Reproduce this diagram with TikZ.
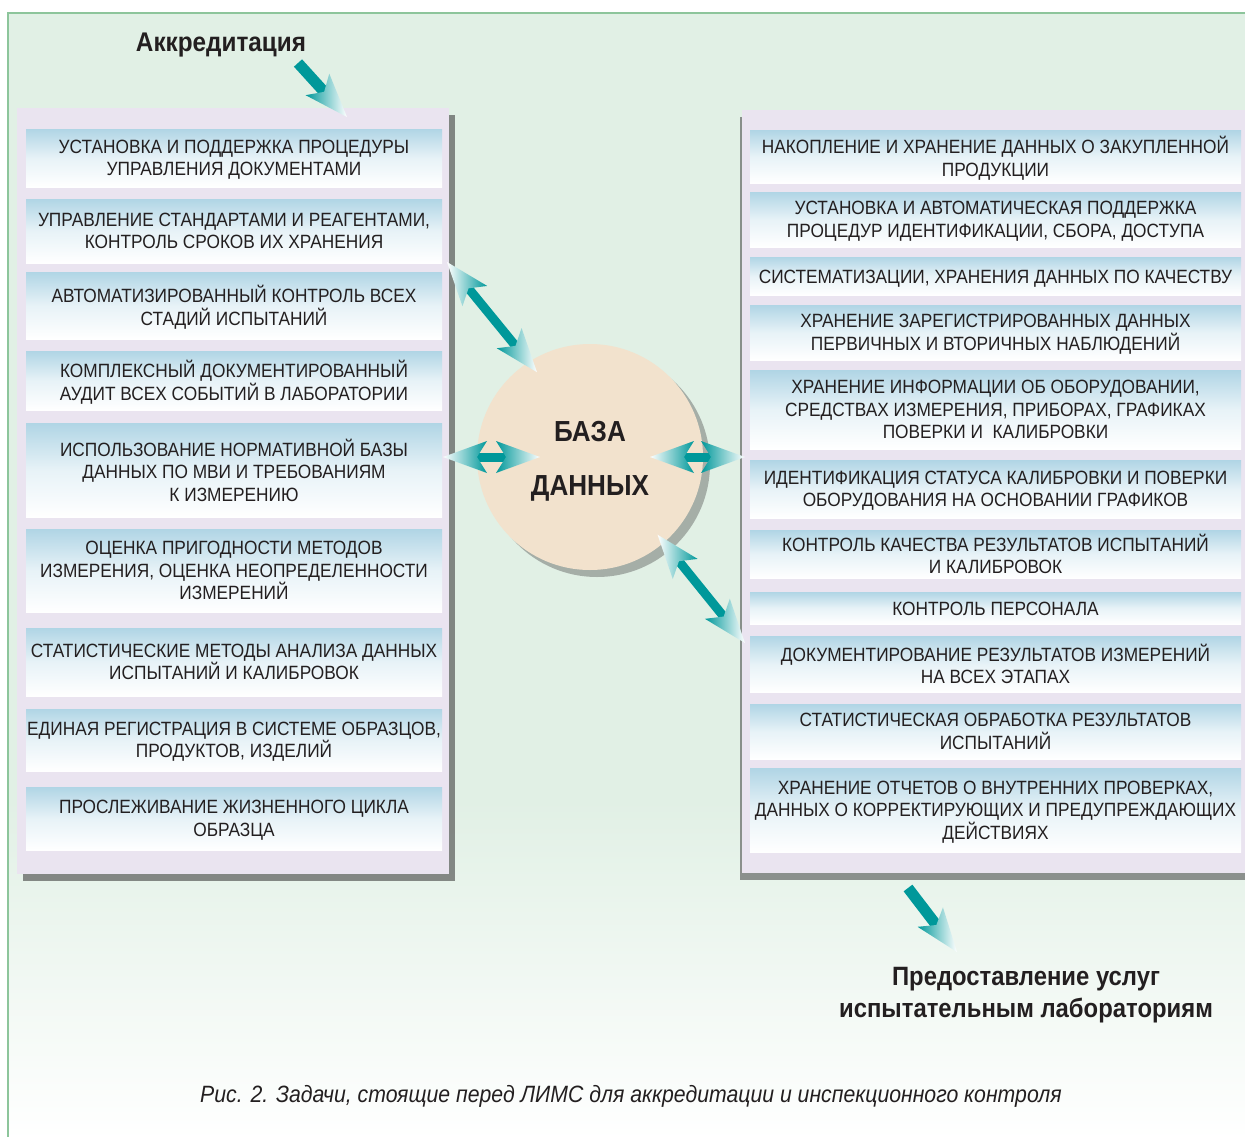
\documentclass[tikz,border=0pt]{standalone}
\usepackage{fontspec}
\setmainfont{Liberation Sans}[FakeStretch=0.9]
\usetikzlibrary{shadows,calc}
\definecolor{bggreen}{HTML}{E1F0E5}
\definecolor{bgline}{HTML}{8DC59B}
\definecolor{panelbg}{HTML}{EAE4F0}
\definecolor{boxblue}{HTML}{B0D5E5}
\definecolor{dbfill}{HTML}{F2E2CD}
\definecolor{arrowteal}{HTML}{00989A}
\definecolor{ink}{HTML}{231F20}
\newcommand{\taskfont}{\fontsize{19.2}{22.5}\selectfont}
\newcommand{\titlefont}{\fontsize{27}{32}\selectfont\bfseries}
\newcommand{\svcfont}{\fontsize{26.5}{32}\selectfont\bfseries}
\newcommand{\dbfont}{\fontsize{29}{54}\selectfont\bfseries}
\newcommand{\capfont}{\fontsize{23.6}{28}\selectfont\itshape}
\tikzset{
  tiphead/.pic={\shade[left color=arrowteal,right color=white] (0,0) -- (-44,-16) -- (-34,0) -- (-44,16) -- cycle;},
  tailhead/.pic={\shade[left color=white,right color=arrowteal] (0,0) -- (44,-16) -- (34,0) -- (44,16) -- cycle;}
}
\begin{document}
\begin{tikzpicture}[x=1pt,y=-1pt,
  task/.style={rectangle,minimum width=416pt,align=center,inner sep=0pt,
    top color=boxblue,bottom color=white,middle color=boxblue!30!white,text=ink,font=\taskfont,
    text depth=0pt,execute at begin node={\rule{0pt}{15pt}}},
  rtask/.style={task,minimum width=491pt},
  panel/.style={rectangle,fill=panelbg,inner sep=0pt},
  link/.style={draw=arrowteal,line width=9pt,shorten <=28pt,shorten >=28pt},
  feed/.style={draw=arrowteal,line width=11pt,shorten >=28pt}]
\useasboundingbox (0,0) rectangle (1245,1136);
\clip (0,0) rectangle (1245,1136);
\fill[bggreen] (8,13) rectangle (1250,800);
\shade[top color=bggreen,bottom color=white] (8,800) rectangle (1250,1140);
\draw[bgline,line width=1.2pt] (8,1140) |- (1250,13);

\node[panel,minimum width=432pt,minimum height=766pt,
  drop shadow={shadow xshift=6pt,shadow yshift=-7pt,fill=black!75,opacity=.6}] (lpan) at (233,491) {};
\node[panel,minimum width=518pt,minimum height=763pt,
  drop shadow={shadow xshift=-2pt,shadow yshift=-7pt,fill=black!75,opacity=.55}] (rpan) at (1001,491.5) {};

\node[task,minimum height=58pt] (l1) at (234,158) {УСТАНОВКА И ПОДДЕРЖКА ПРОЦЕДУРЫ\\УПРАВЛЕНИЯ ДОКУМЕНТАМИ};
\node[task,minimum height=64pt] (l2) at (234,231) {УПРАВЛЕНИЕ СТАНДАРТАМИ И РЕАГЕНТАМИ,\\КОНТРОЛЬ СРОКОВ ИХ ХРАНЕНИЯ};
\node[task,minimum height=67pt] (l3) at (234,305.5) {АВТОМАТИЗИРОВАННЫЙ КОНТРОЛЬ ВСЕХ\\СТАДИЙ ИСПЫТАНИЙ};
\node[task,minimum height=59pt] (l4) at (234,380.5) {КОМПЛЕКСНЫЙ ДОКУМЕНТИРОВАННЫЙ\\АУДИТ ВСЕХ СОБЫТИЙ В ЛАБОРАТОРИИ};
\node[task,minimum height=94pt] (l5) at (234,470) {ИСПОЛЬЗОВАНИЕ НОРМАТИВНОЙ БАЗЫ\\ДАННЫХ ПО МВИ И ТРЕБОВАНИЯМ\\К ИЗМЕРЕНИЮ};
\node[task,minimum height=83pt] (l6) at (234,570.5) {ОЦЕНКА ПРИГОДНОСТИ МЕТОДОВ\\ИЗМЕРЕНИЯ, ОЦЕНКА НЕОПРЕДЕЛЕННОСТИ\\ИЗМЕРЕНИЙ};
\node[task,minimum height=68pt] (l7) at (234,662) {СТАТИСТИЧЕСКИЕ МЕТОДЫ АНАЛИЗА ДАННЫХ\\ИСПЫТАНИЙ И КАЛИБРОВОК};
\node[task,minimum height=62pt] (l8) at (234,740) {ЕДИНАЯ РЕГИСТРАЦИЯ В СИСТЕМЕ ОБРАЗЦОВ,\\ПРОДУКТОВ, ИЗДЕЛИЙ};
\node[task,minimum height=63pt] (l9) at (234,818.5) {ПРОСЛЕЖИВАНИЕ ЖИЗНЕННОГО ЦИКЛА\\ОБРАЗЦА};

\node[rtask,minimum height=53pt] (r1) at (995.5,156.5) {НАКОПЛЕНИЕ И ХРАНЕНИЕ ДАННЫХ О ЗАКУПЛЕННОЙ\\ПРОДУКЦИИ};
\node[rtask,minimum height=55pt] (r2) at (995.5,219.5) {УСТАНОВКА И АВТОМАТИЧЕСКАЯ ПОДДЕРЖКА\\ПРОЦЕДУР ИДЕНТИФИКАЦИИ, СБОРА, ДОСТУПА};
\node[rtask,minimum height=38pt] (r3) at (995.5,276) {СИСТЕМАТИЗАЦИИ, ХРАНЕНИЯ ДАННЫХ ПО КАЧЕСТВУ};
\node[rtask,minimum height=55pt] (r4) at (995.5,332.5) {ХРАНЕНИЕ ЗАРЕГИСТРИРОВАННЫХ ДАННЫХ\\ПЕРВИЧНЫХ И ВТОРИЧНЫХ НАБЛЮДЕНИЙ};
\node[rtask,minimum height=79pt] (r5) at (995.5,409.5) {ХРАНЕНИЕ ИНФОРМАЦИИ ОБ ОБОРУДОВАНИИ,\\СРЕДСТВАХ ИЗМЕРЕНИЯ, ПРИБОРАХ, ГРАФИКАХ\\ПОВЕРКИ И\ \ КАЛИБРОВКИ};
\node[rtask,minimum height=58pt] (r6) at (995.5,489) {ИДЕНТИФИКАЦИЯ СТАТУСА КАЛИБРОВКИ И ПОВЕРКИ\\ОБОРУДОВАНИЯ НА ОСНОВАНИИ ГРАФИКОВ};
\node[rtask,minimum height=48pt] (r7) at (995.5,554) {КОНТРОЛЬ КАЧЕСТВА РЕЗУЛЬТАТОВ ИСПЫТАНИЙ\\И КАЛИБРОВОК};
\node[rtask,minimum height=32pt] (r8) at (995.5,608) {КОНТРОЛЬ ПЕРСОНАЛА};
\node[rtask,minimum height=56pt] (r9) at (995.5,664) {ДОКУМЕНТИРОВАНИЕ РЕЗУЛЬТАТОВ ИЗМЕРЕНИЙ\\НА ВСЕХ ЭТАПАХ};
\node[rtask,minimum height=55pt] (r10) at (995.5,731.5) {СТАТИСТИЧЕСКАЯ ОБРАБОТКА РЕЗУЛЬТАТОВ\\ИСПЫТАНИЙ};
\node[rtask,minimum height=84pt] (r11) at (995.5,810) {ХРАНЕНИЕ ОТЧЕТОВ О ВНУТРЕННИХ ПРОВЕРКАХ,\\ДАННЫХ О КОРРЕКТИРУЮЩИХ И ПРЕДУПРЕЖДАЮЩИХ\\ДЕЙСТВИЯХ};

\node[circle,fill=dbfill,minimum size=226pt,inner sep=0pt,
  label={[font=\dbfont,text=ink,align=center,yshift=-4pt]center:БАЗА\\ДАННЫХ},
  drop shadow={shadow xshift=7pt,shadow yshift=-7pt,fill=black!70,opacity=.4}] (db) at (590,457) {};

\node[font=\titlefont,text=ink] (acc) at (221,45) {Аккредитация};
\node[font=\svcfont,text=ink,align=center] (svc) at (1026,995) {Предоставление услуг\\испытательным лабораториям};
\node[font=\capfont,text=ink] (cap) at (631,1096) {Рис. 2. Задачи, стоящие перед ЛИМС для аккредитации и инспекционного контроля};

\coordinate (lA) at (447,262);
\coordinate (lB) at (443,457);
\coordinate (rC) at (745,457);
\coordinate (rD) at (745,643);
\coordinate (dbA) at ($(db.center)+(122:100pt)$);
\coordinate (dbB) at ($(db.center)+(180:50pt)$);
\coordinate (dbC) at ($(db.center)+(0:60pt)$);
\coordinate (dbD) at ($(db.center)+(-49:103pt)$);
\coordinate (accA) at (298,63);
\coordinate (accB) at (347,117);
\coordinate (svcA) at (908,888);
\coordinate (svcB) at (957,952);

\draw[link] (lA) -- (dbA);
\draw[link] (lB) -- (dbB);
\draw[link] (dbC) -- (rC);
\draw[link] (dbD) -- (rD);
\draw[feed] (accA) -- (accB);
\draw[feed] (svcA) -- (svcB);
\path (lA) -- (dbA) pic[pos=0,sloped]{tailhead} pic[pos=1,sloped]{tiphead};
\path (lB) -- (dbB) pic[pos=0,sloped]{tailhead} pic[pos=1,sloped]{tiphead};
\path (dbC) -- (rC) pic[pos=0,sloped]{tailhead} pic[pos=1,sloped]{tiphead};
\path (dbD) -- (rD) pic[pos=0,sloped]{tailhead} pic[pos=1,sloped]{tiphead};
\path (accA) -- (accB) pic[pos=1,sloped]{tiphead};
\path (svcA) -- (svcB) pic[pos=1,sloped]{tiphead};
\end{tikzpicture}
\end{document}
